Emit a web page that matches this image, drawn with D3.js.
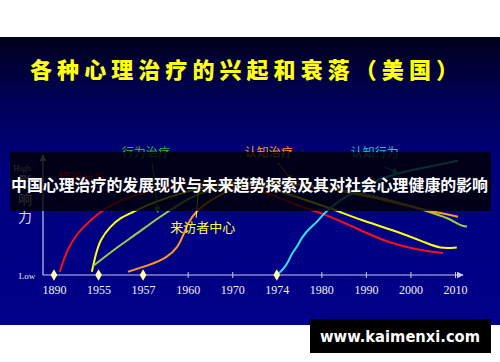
<!DOCTYPE html>
<html lang="zh">
	<head>
		<meta charset="utf-8">
		<title>各种心理治疗的兴起和衰落（美国）</title>
		<script src="https://d3js.org/d3.v7.min.js"></script>
		<style type="text/css">
			body {
				margin: 0;
				background-color: white;
			}
			svg {
				display: block;
			}
		</style>
	</head>
	<body>
		<script type="text/javascript">

			//Tick labels along the time axis (not evenly spaced years, one slot each)
			var years = ["1890", "1955", "1957", "1960", "1970", "1974", "1980", "1990", "2000", "2010"];
			//Slots that carry a diamond marker instead of a tick
			var milestones = ["1890", "1955", "1957", "1974"];

			//Each curve: [slot position, influence 0..100]
			var psychoanalysis = [[0.13, 3], [0.29, 23], [0.52, 38], [0.81, 50], [1.26, 64], [1.77, 72], [2.15, 77], [2.9, 83], [3.61, 84], [4.4, 79], [4.91, 73], [5.45, 63], [5.9, 58], [6.49, 48], [7.02, 38], [7.54, 29], [8.15, 23], [8.73, 20]];
			var clientCentered = [[0.85, 3], [0.92, 16], [1.03, 32], [1.26, 44], [1.48, 52], [1.77, 57], [2.15, 65], [2.9, 75], [3.66, 83], [4.29, 85], [4.85, 79], [5.52, 70], [6.26, 60], [6.87, 50], [7.61, 41], [8.37, 29], [8.66, 24], [9.04, 25]];
			var behavioral = [[0.87, 8], [1.48, 27], [1.77, 35], [2.38, 53], [2.83, 65], [3.28, 75], [3.95, 82], [4.85, 84], [5.97, 80], [7.09, 73], [7.99, 63], [8.6, 55], [8.89, 51], [9.11, 45], [9.27, 44]];
			var cognitive = [[1.66, 3], [2.15, 9], [2.54, 16], [2.78, 25], [2.9, 36], [3.01, 48], [3.21, 59], [3.5, 68], [4.02, 79], [4.62, 85], [5.52, 83], [6.64, 75], [7.76, 65], [8.44, 58], [9.07, 53]];
			var cognitiveBehavioral = [[5.0, 0], [5.14, 5], [5.25, 11], [5.34, 20], [5.45, 25], [5.57, 35], [5.75, 43], [5.9, 48], [6.04, 55], [6.19, 61], [6.53, 71], [6.98, 82], [7.7, 93], [8.37, 98], [9.07, 104]];

			//Curve names
			var names = ["精神分析", "来访者中心", "行为治疗", "认知治疗", "认知行为"];

			//Width and height
			var w = 500;
			var h = 362;

			var series = [
				{ name: names[0], values: psychoanalysis, color: "#ff1010" },
				{ name: names[1], values: clientCentered, color: "#ffff10" },
				{ name: names[2], values: behavioral, color: "#9acd4a" },
				{ name: names[3], values: cognitive, color: "#ff9a1e" },
				{ name: names[4], values: cognitiveBehavioral, color: "#2ee6f5" }
			];

			//Labels with pointer lines, in the same units as the curves
			var notes = [
				{ text: names[0], at: [0.63, 88], color: "#e01010" },
				{ text: names[2], at: [2.06, 111], color: "#2db82d", from: [2.2, 103], to: [2.33, 57] },
				{ text: names[3], at: [4.82, 111], color: "#ff9a1e", from: [5.03, 102], to: [5.34, 86] },
				{ text: names[4], at: [7.2, 111], color: "#10c8c8", from: [7.43, 98], to: [7.72, 93] },
				{ text: names[1], at: [3.34, 43], color: "#ffff30", size: 13, from: [3.19, 52], to: [3.25, 81] }
			];

			//Scales
			var x = d3.scaleLinear().domain([0, years.length - 1]).range([54, 455]);
			var y = d3.scaleLinear().domain([0, 100]).range([275, 165]);

			//Create SVG element
			var svg = d3.select("body")
						.append("svg")
						.attr("width", w)
						.attr("height", h);

			var defs = svg.append("defs");

			var grad = defs.append("linearGradient")
						.attr("id", "bg")
						.attr("x1", 0).attr("y1", 0)
						.attr("x2", 0).attr("y2", 1);
			grad.append("stop").attr("offset", "0%").attr("stop-color", "#00001c");
			grad.append("stop").attr("offset", "22%").attr("stop-color", "#000058");
			grad.append("stop").attr("offset", "45%").attr("stop-color", "#00007e");
			grad.append("stop").attr("offset", "100%").attr("stop-color", "#00008a");

			function marker(id, color, size) {
				defs.append("marker")
					.attr("id", id)
					.attr("viewBox", "0 0 10 10")
					.attr("refX", 9)
					.attr("refY", 5)
					.attr("markerWidth", size)
					.attr("markerHeight", size)
					.attr("markerUnits", "userSpaceOnUse")
					.attr("orient", "auto")
					.append("path")
					.attr("d", "M0,0L10,5L0,10z")
					.attr("fill", color);
			}
			marker("axisArrow", "#c8c8e6", 7);
			notes.forEach(function(d, i) {
				marker("noteArrow" + i, d.color, 6);
			});

			//Slide panel
			svg.append("rect")
				.attr("x", 0)
				.attr("y", 37)
				.attr("width", w)
				.attr("height", 288)
				.attr("fill", "url(#bg)");

			//Title
			svg.append("text")
				.attr("x", 30)
				.attr("y", 78)
				.attr("textLength", 428)
				.attr("lengthAdjust", "spacing")
				.attr("fill", "#ffff14")
				.style("font-family", "'Noto Sans CJK SC'")
				.style("font-weight", 900)
				.style("font-size", "22px")
				.text("各种心理治疗的兴起和衰落（美国）");

			//Axes
			svg.append("line")
				.attr("x1", x.range()[0] - 11).attr("y1", y(0))
				.attr("x2", x.range()[0] - 11).attr("y2", 155)
				.attr("stroke", "#c8c8e6")
				.attr("stroke-width", 1.2)
				.attr("marker-end", "url(#axisArrow)");

			svg.append("line")
				.attr("x1", x.range()[0] - 11).attr("y1", y(0))
				.attr("x2", x.range()[1] + 8).attr("y2", y(0))
				.attr("stroke", "#c8c8e6")
				.attr("stroke-width", 1.2)
				.attr("marker-end", "url(#axisArrow)");

			var xAxis = d3.axisBottom(x)
						.tickValues(d3.range(years.length))
						.tickFormat(function(i) { return years[i]; })
						.tickSize(3)
						.tickPadding(7);

			var gx = svg.append("g")
						.attr("transform", "translate(0," + y(0) + ")")
						.call(xAxis);

			gx.select(".domain").remove();
			gx.selectAll(".tick line")
				.attr("y1", -3)
				.attr("stroke", "#c8c8e6")
				.attr("display", function(i) { return milestones.indexOf(years[i]) >= 0 ? "none" : null; });
			gx.selectAll(".tick text")
				.attr("fill", "#f0f0f0")
				.style("font-family", "'Liberation Serif', serif")
				.style("font-size", "12px");

			//High / Low
			svg.append("text")
				.attr("x", 22).attr("y", y(100) + 6)
				.attr("text-anchor", "middle")
				.attr("fill", "#c8c8c8")
				.style("font-family", "'Liberation Serif', serif")
				.style("font-size", "9px")
				.text("High");

			svg.append("text")
				.attr("x", 27).attr("y", y(0) + 4)
				.attr("text-anchor", "middle")
				.attr("fill", "#e0e0e0")
				.style("font-family", "'Liberation Serif', serif")
				.style("font-size", "9px")
				.text("Low");

			//Vertical axis title
			svg.append("text")
				.attr("x", 25)
				.attr("fill", "#d8d8d8")
				.style("font-family", "'Noto Sans CJK SC'")
				.style("font-size", "14px")
				.attr("text-anchor", "middle")
				.selectAll("tspan")
				.data(["影", "响", "力"])
				.enter()
				.append("tspan")
				.attr("x", 25)
				.attr("y", function(d, i) { return 186 + i * 18; })
				.text(function(d) { return d; });

			//Curves
			var line = d3.line()
						.x(function(d) { return x(d[0]); })
						.y(function(d) { return y(d[1]); })
						.curve(d3.curveBasis);

			svg.selectAll("path.curve")
				.data(series)
				.enter()
				.append("path")
				.attr("class", "curve")
				.attr("d", function(d) { return line(d.values); })
				.attr("fill", "none")
				.attr("stroke", function(d) { return d.color; })
				.attr("stroke-width", 2);

			//Milestone diamonds
			svg.selectAll("path.milestone")
				.data(milestones)
				.enter()
				.append("path")
				.attr("class", "milestone")
				.attr("d", d3.symbol(d3.symbolDiamond, 38))
				.attr("transform", function(d) { return "translate(" + x(years.indexOf(d)) + "," + y(0) + ")"; })
				.attr("fill", "#ffffa8");

			//Pointer lines and curve labels
			notes.forEach(function(d, i) {
				if (d.from) {
					svg.append("line")
						.attr("x1", x(d.from[0])).attr("y1", y(d.from[1]))
						.attr("x2", x(d.to[0])).attr("y2", y(d.to[1]))
						.attr("stroke", d.color)
						.attr("stroke-width", 1)
						.attr("marker-end", "url(#noteArrow" + i + ")");
				}
				svg.append("text")
					.attr("x", x(d.at[0]))
					.attr("y", y(d.at[1]))
					.attr("dy", "0.35em")
					.attr("text-anchor", "middle")
					.attr("fill", d.color)
					.style("font-family", "'Noto Sans CJK SC'")
					.style("font-size", (d.size || 12) + "px")
					.text(d.text);
			});

			//Overlay banner
			svg.append("rect")
				.attr("x", 10)
				.attr("y", 152)
				.attr("width", 481)
				.attr("height", 59)
				.attr("fill", "black")
				.attr("fill-opacity", 0.8);

			svg.append("text")
				.attr("x", 11)
				.attr("y", 191)
				.attr("textLength", 477)
				.attr("lengthAdjust", "spacingAndGlyphs")
				.attr("fill", "white")
				.style("font-family", "'Noto Sans CJK SC'")
				.style("font-weight", 700)
				.style("font-size", "16px")
				.text("中国心理治疗的发展现状与未来趋势探索及其对社会心理健康的影响");

			//Watermark
			svg.append("rect")
				.attr("x", 310)
				.attr("y", 319)
				.attr("width", 181)
				.attr("height", 34)
				.attr("fill", "black");

			svg.append("text")
				.attr("x", 320)
				.attr("y", 342)
				.attr("textLength", 160)
				.attr("lengthAdjust", "spacingAndGlyphs")
				.attr("fill", "white")
				.style("font-family", "'DejaVu Sans', sans-serif")
				.style("font-weight", 700)
				.style("font-size", "15px")
				.text("www.kaimenxi.com");

		</script>
	</body>
</html>
